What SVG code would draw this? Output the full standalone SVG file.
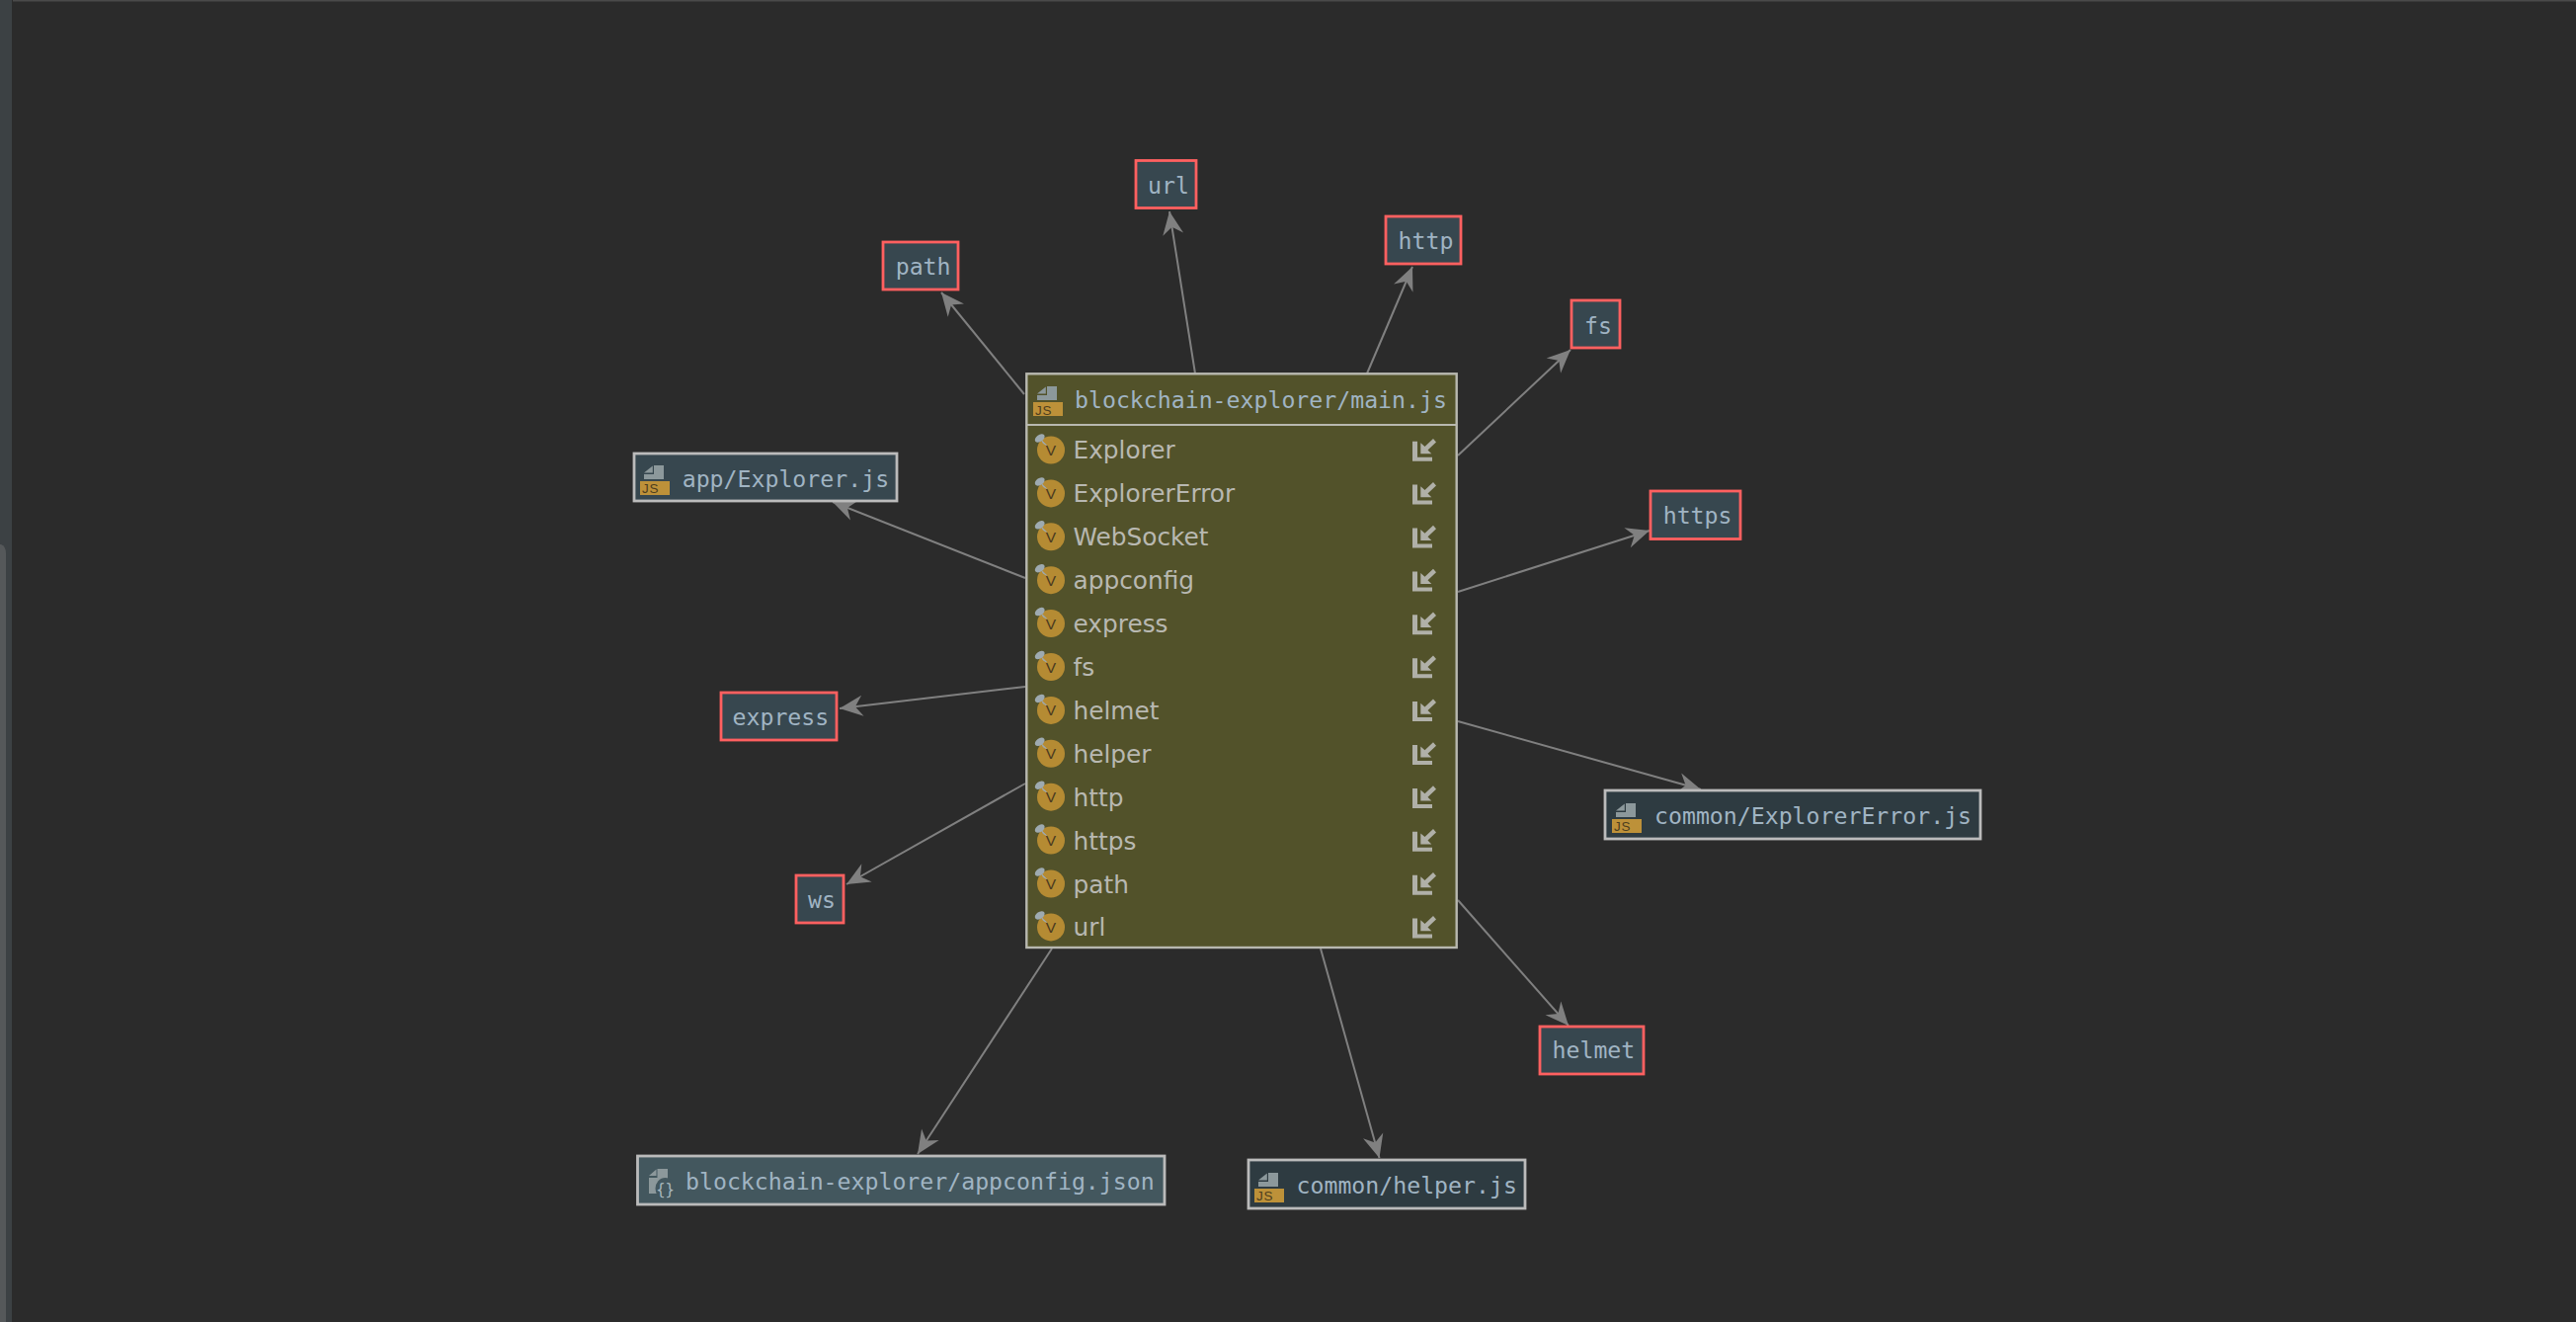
<svg xmlns="http://www.w3.org/2000/svg" xmlns:xlink="http://www.w3.org/1999/xlink" width="2608" height="1338" viewBox="0 0 2608 1338">
<style>
.box{stroke-width:2.8}
.ext{fill:#37474f;stroke:#ff6060}
.file{fill:#37474f;stroke:#bbbbbb}
.dark{fill:#2e3b41;stroke:#bbbbbb}
.light{fill:#43575e;stroke:#bbbbbb}
.main{fill:#52522a;stroke:#b8b8b0;stroke-width:2.4}
.mono{font-family:"DejaVu Sans Mono","Liberation Mono",monospace;font-size:23.2px;fill:#a0b4c3}
.row{font-family:"DejaVu Sans","Liberation Sans",sans-serif;font-size:24.8px;fill:#b8b8b1}
.conn{stroke:#808080;stroke-width:2;fill:none;marker-end:url(#arrow)}
.docg{fill:#8c989b}
.jsb{fill:#bd9139}
.jst{font-family:"Liberation Sans",sans-serif;font-size:13.5px;letter-spacing:0.8px;fill:#4e3f1e}
.vc{fill:#b58b33}
.vt{font-family:"Liberation Sans",sans-serif;font-size:15.5px;fill:#4a3a20}
.imp{fill:#b0b0a8}
</style>
<defs>
<marker id="arrow" markerUnits="userSpaceOnUse" markerWidth="26" markerHeight="24" refX="24" refY="11" orient="auto">
<path d="M24,11 L0.500,0.500 L8,11 L0.500,21.500 Z" fill="#808080"/>
</marker>
<g id="doc">
<path class="docg" d="M14,-16 H24 V-2 H4 V-7 H14 Z"/>
<path class="docg" d="M4,-8.500 L12.800,-15.500 V-8.500 Z"/>
</g>
<g id="jsicon">
<use xlink:href="#doc" href="#doc"/>
<rect class="jsb" x="0" y="0" width="30" height="14"/>
</g>
<g id="vicon">
<circle class="vc" cx="1064" cy="0" r="14"/>
<ellipse cx="1052.700" cy="-12" rx="5.500" ry="3.500" fill="#9eaab0" transform="rotate(-35 1052.700 -12)"/>
<path d="M1055,-9.500 L1059.500,-5 L1056,-7 Z" fill="#9eaab0" stroke="#9eaab0" stroke-width="0.800"/>
</g>
<g id="impicon">
<path class="imp" d="M1430,-8.800 h5 v16 h15 v4 h-20 Z"/>
<path class="imp" d="M1438.300,3.800 V-7.200 L1442.500,-3.500 L1451,-11.500 L1454,-8 L1445.500,0 L1449.300,3.800 Z"/>
</g>
</defs>
<rect width="2608" height="1338" fill="#2b2b2b"/>
<rect x="0" y="0" width="12" height="1338" fill="#3c4144"/>
<rect x="13" y="0" width="2595" height="1.500" fill="#4a4a4a"/>
<path d="M0,551 H1 Q6,553 6,560 V1338 H0 Z" fill="#55585a"/>
<g id="connectors">
<line class="conn" x1="1037" y1="399" x2="953" y2="296"/>
<line class="conn" x1="1210" y1="378" x2="1184" y2="214"/>
<line class="conn" x1="1384" y1="378" x2="1430" y2="270"/>
<line class="conn" x1="1476" y1="461" x2="1590" y2="354"/>
<line class="conn" x1="1476" y1="599" x2="1670" y2="537"/>
<line class="conn" x1="1476" y1="730" x2="1722" y2="799"/>
<line class="conn" x1="1476" y1="911" x2="1588" y2="1038"/>
<line class="conn" x1="1337" y1="960" x2="1396.500" y2="1172"/>
<line class="conn" x1="1065" y1="960" x2="929" y2="1168"/>
<line class="conn" x1="1038" y1="793" x2="857" y2="895"/>
<line class="conn" x1="1038" y1="695" x2="850" y2="717"/>
<line class="conn" x1="1038" y1="585" x2="843" y2="508"/>
</g>
<g id="node-path"><rect class="box ext" x="894" y="245" width="76" height="48"/><text class="mono" x="906.700" y="278">path</text></g>
<g id="node-url"><rect class="box ext" x="1150" y="162.500" width="61" height="48"/><text class="mono" x="1162" y="196">url</text></g>
<g id="node-http"><rect class="box ext" x="1403" y="219" width="76" height="48"/><text class="mono" x="1415.500" y="252">http</text></g>
<g id="node-fs"><rect class="box ext" x="1591" y="304" width="49" height="48"/><text class="mono" x="1604" y="338">fs</text></g>
<g id="node-https"><rect class="box ext" x="1671" y="497" width="91" height="48.500"/><text class="mono" x="1683.700" y="530">https</text></g>
<g id="node-express"><rect class="box ext" x="730" y="701" width="117" height="48"/><text class="mono" x="741.500" y="734">express</text></g>
<g id="node-ws"><rect class="box ext" x="806" y="886" width="48" height="48"/><text class="mono" x="818" y="919">ws</text></g>
<g id="node-helmet"><rect class="box ext" x="1559" y="1039" width="105" height="48"/><text class="mono" x="1571.500" y="1071">helmet</text></g>
<g id="node-explorer"><rect class="box file" x="642" y="459" width="266" height="48"/><use xlink:href="#jsicon" href="#jsicon" x="648" y="487"/><text class="mono" x="690.700" y="493">app/Explorer.js</text><text class="jst" x="650" y="499">JS</text></g>
<g id="node-explorererror"><rect class="box dark" x="1625" y="800" width="380" height="49"/><use xlink:href="#jsicon" href="#jsicon" x="1632" y="829"/><text class="mono" x="1675" y="834">common/ExplorerError.js</text><text class="jst" x="1634" y="841">JS</text></g>
<g id="node-helper"><rect class="box dark" x="1264" y="1174" width="280" height="49"/><use xlink:href="#jsicon" href="#jsicon" x="1270" y="1203"/><text class="mono" x="1312.500" y="1208">common/helper.js</text><text class="jst" x="1272" y="1215">JS</text></g>
<g id="node-appconfig"><rect class="box light" x="645.500" y="1170" width="533.500" height="49"/>
<path class="docg" d="M665.500,1183 H676 V1208 H657 V1192 H665.500 Z"/>
<path class="docg" d="M657,1190 L664.500,1183.500 V1190 Z"/>
<ellipse cx="673.500" cy="1203" rx="10" ry="11" fill="#43575e"/>
<text x="673.500" y="1209" font-family="DejaVu Sans Mono" font-size="15.500" fill="#a9b7bd" text-anchor="middle">{}</text>
<text class="mono" x="694" y="1204">blockchain-explorer/appconfig.json</text></g>
<g id="node-main">
<rect class="box main" x="1039.300" y="378.300" width="435.400" height="580.700"/>
<path d="M1039,430 H1475" stroke="#b8b8b0" stroke-width="2"/>
<use xlink:href="#jsicon" href="#jsicon" x="1046" y="407"/>
<text class="jst" x="1048" y="419.500">JS</text>
<text class="mono" x="1088" y="412.700">blockchain-explorer/main.js</text>
<g transform="translate(0,455.500)"><use xlink:href="#vicon" href="#vicon"/><use xlink:href="#impicon" href="#impicon"/><text class="vt" x="1064" y="5.500" text-anchor="middle">V</text><text class="row" x="1086.500" y="8.500">Explorer</text></g>
<g transform="translate(0,499.400)"><use xlink:href="#vicon" href="#vicon"/><use xlink:href="#impicon" href="#impicon"/><text class="vt" x="1064" y="5.500" text-anchor="middle">V</text><text class="row" x="1086.500" y="9">ExplorerError</text></g>
<g transform="translate(0,543.300)"><use xlink:href="#vicon" href="#vicon"/><use xlink:href="#impicon" href="#impicon"/><text class="vt" x="1064" y="5.500" text-anchor="middle">V</text><text class="row" x="1086.500" y="9">WebSocket</text></g>
<g transform="translate(0,587.200)"><use xlink:href="#vicon" href="#vicon"/><use xlink:href="#impicon" href="#impicon"/><text class="vt" x="1064" y="5.500" text-anchor="middle">V</text><text class="row" x="1086.500" y="9">appconfig</text></g>
<g transform="translate(0,631.100)"><use xlink:href="#vicon" href="#vicon"/><use xlink:href="#impicon" href="#impicon"/><text class="vt" x="1064" y="5.500" text-anchor="middle">V</text><text class="row" x="1086.500" y="9">express</text></g>
<g transform="translate(0,675)"><use xlink:href="#vicon" href="#vicon"/><use xlink:href="#impicon" href="#impicon"/><text class="vt" x="1064" y="5.500" text-anchor="middle">V</text><text class="row" x="1086.500" y="9">fs</text></g>
<g transform="translate(0,718.900)"><use xlink:href="#vicon" href="#vicon"/><use xlink:href="#impicon" href="#impicon"/><text class="vt" x="1064" y="5.500" text-anchor="middle">V</text><text class="row" x="1086.500" y="9">helmet</text></g>
<g transform="translate(0,762.800)"><use xlink:href="#vicon" href="#vicon"/><use xlink:href="#impicon" href="#impicon"/><text class="vt" x="1064" y="5.500" text-anchor="middle">V</text><text class="row" x="1086.500" y="9">helper</text></g>
<g transform="translate(0,806.700)"><use xlink:href="#vicon" href="#vicon"/><use xlink:href="#impicon" href="#impicon"/><text class="vt" x="1064" y="5.500" text-anchor="middle">V</text><text class="row" x="1086.500" y="9">http</text></g>
<g transform="translate(0,850.600)"><use xlink:href="#vicon" href="#vicon"/><use xlink:href="#impicon" href="#impicon"/><text class="vt" x="1064" y="5.500" text-anchor="middle">V</text><text class="row" x="1086.500" y="9">https</text></g>
<g transform="translate(0,894.500)"><use xlink:href="#vicon" href="#vicon"/><use xlink:href="#impicon" href="#impicon"/><text class="vt" x="1064" y="5.500" text-anchor="middle">V</text><text class="row" x="1086.500" y="9">path</text></g>
<g transform="translate(0,938.400)"><use xlink:href="#vicon" href="#vicon"/><use xlink:href="#impicon" href="#impicon"/><text class="vt" x="1064" y="5.500" text-anchor="middle">V</text><text class="row" x="1086.500" y="9">url</text></g>
</g>
</svg>
